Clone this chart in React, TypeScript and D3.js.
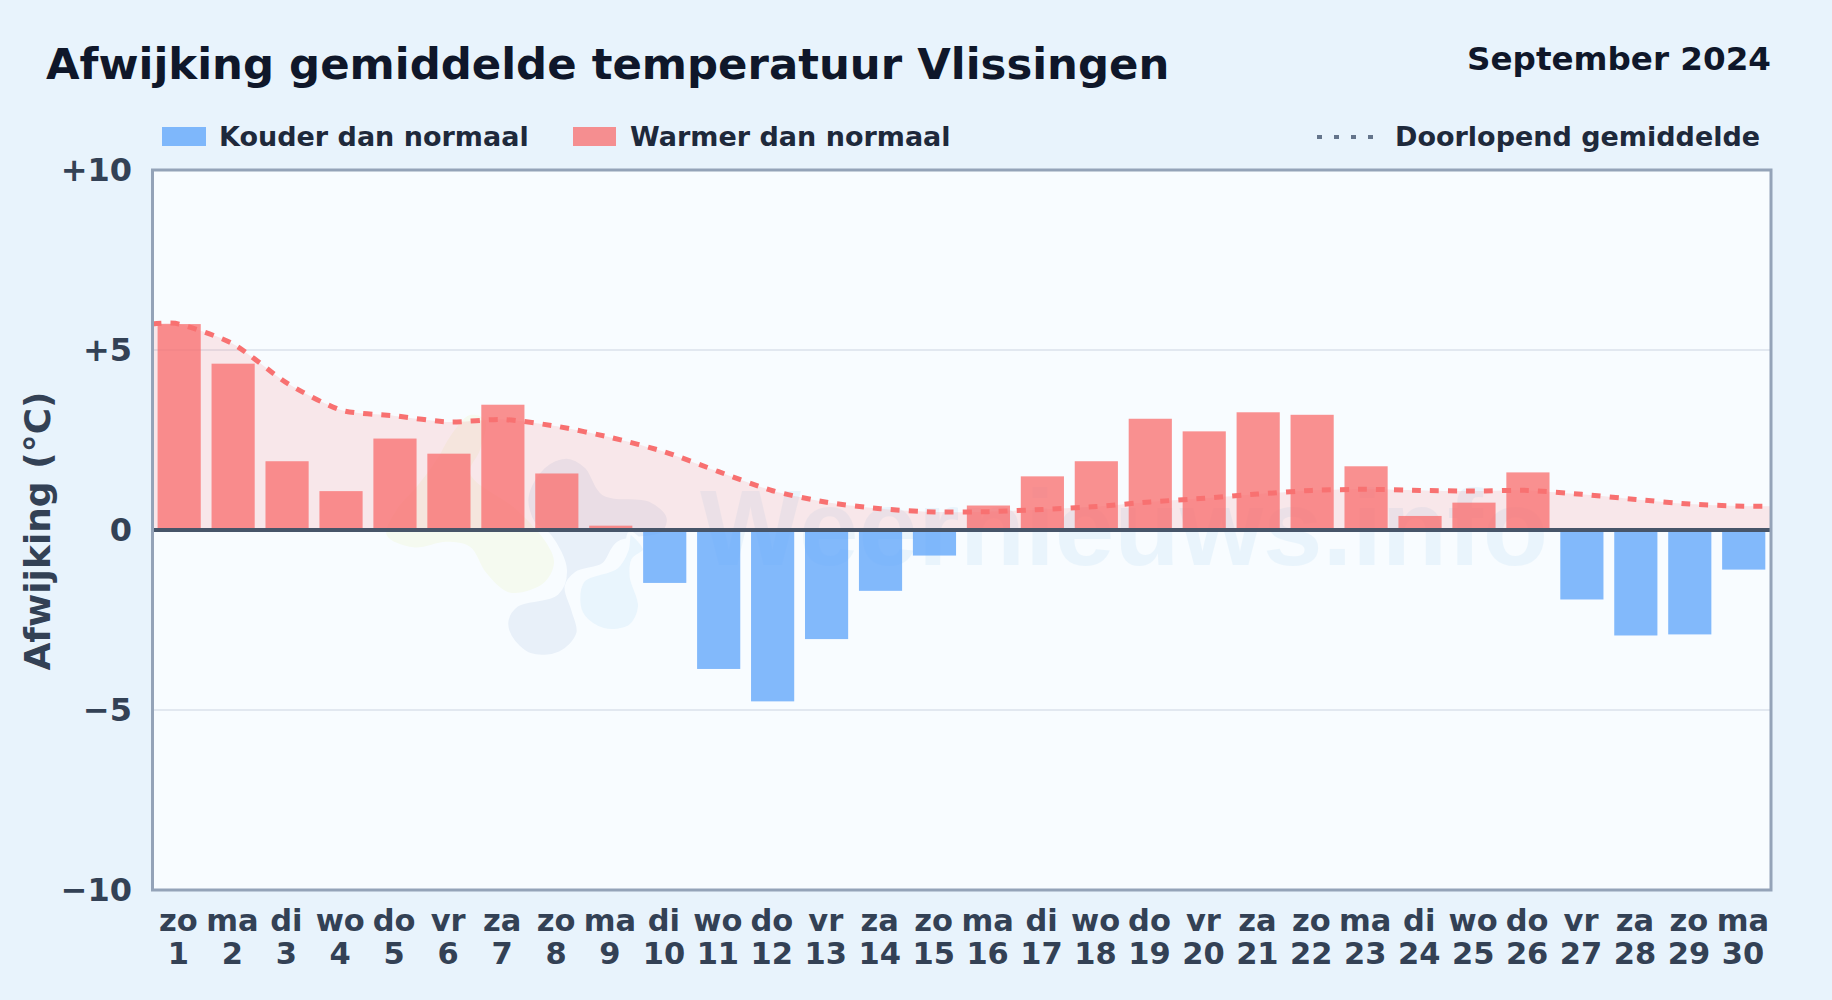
import React from "react";
import * as d3 from "d3";

const days = ["zo","ma","di","wo","do","vr","za","zo","ma","di","wo","do","vr","za","zo","ma","di","wo","do","vr","za","zo","ma","di","wo","do","vr","za","zo","ma"];
const dates = ["1","2","3","4","5","6","7","8","9","10","11","12","13","14","15","16","17","18","19","20","21","22","23","24","25","26","27","28","29","30"];
const deviation = [5.72,4.62,1.91,1.08,2.54,2.12,3.48,1.57,0.12,-1.47,-3.86,-4.76,-3.03,-1.69,-0.71,0.68,1.49,1.91,3.09,2.74,3.27,3.2,1.77,0.39,0.76,1.6,-1.93,-2.93,-2.9,-1.1];
const running = [5.72,5.17,4.08,3.33,3.17,3.0,3.07,2.88,2.57,2.17,1.62,1.09,0.77,0.59,0.5,0.51,0.57,0.65,0.78,0.88,1.0,1.1,1.13,1.1,1.08,1.1,0.99,0.85,0.72,0.66];
const yTicks = [10,5,0,-5,-10];
const yLabels = ["+10","+5","0","−5","−10"];

const W = 1832, H = 1000;
const L = 152.5, R = 1771, T = 170, B = 890;
const FONT = "'DejaVu Sans', sans-serif";

const x = d3.scaleBand<string>().domain(dates).range([L - 0.3, R - 0.3]).paddingInner(0.2).paddingOuter(0.1);
const y = d3.scaleLinear().domain([-10, 10]).range([B, T]);
const cx = (i: number) => (x(dates[i]) as number) + x.bandwidth() / 2;

type P = [number, number];
const pts: P[] = [[L, running[0]], ...running.map((v, i) => [cx(i), v] as P), [R, running[running.length - 1]]];
const curve = d3.curveCardinal.tension(0.3);
const lineGen = d3.line<P>().x(d => d[0]).y(d => y(d[1])).curve(curve);
const areaGen = d3.area<P>().x(d => d[0]).y0(y(0)).y1(d => y(d[1])).curve(curve);

const blob = d3.line<number[]>().curve(d3.curveCatmullRomClosed.alpha(0.5));
const logoYellow = [[240,80],[300,15],[345,30],[330,120],[300,190],[440,300],[530,400],[552,460],[520,520],[420,548],[350,490],[300,410],[230,395],[130,412],[50,375],[80,300],[140,230],[200,150]];
const logoBlue = [[590,140],[650,170],[700,250],[840,270],[895,320],[880,370],[745,400],[700,465],[620,490],[590,530],[610,600],[625,670],[570,730],[480,735],[420,680],[410,630],[440,585],[560,550],[585,480],[540,380],[490,340],[470,260],[520,170]];
const logoLight = [[780,370],[825,420],[790,450],[785,500],[810,590],[780,650],[700,660],[640,620],[625,570],[640,510],[740,470],[770,420]];

export default function App() {
  return (
    <svg width={W} height={H} viewBox={`0 0 ${W} ${H}`} style={{ position: "absolute", left: 0, top: 0, display: "block" }} fontFamily={FONT}>
      <defs>
        <clipPath id="plot"><rect x={L} y={T} width={R - L} height={B - T} /></clipPath>
      </defs>
      <rect width={W} height={H} fill="#e8f3fc" />
      <rect x={L} y={T} width={R - L} height={B - T} fill="#f8fcff" />

      <g transform="translate(370,410) scale(0.3333)">
        <path d={blob(logoYellow) as string} fill="#f5faf0" />
        <path d={blob(logoBlue) as string} fill="#e8f0f9" stroke="#f8fcff" strokeWidth={12} />
        <path d={blob(logoLight) as string} fill="#e9f5fd" stroke="#f8fcff" strokeWidth={12} />
      </g>
      <text x={700} y={565} fontFamily="'Liberation Sans', sans-serif" fontWeight={700} fontSize={107} fill="#3b9ce0" opacity={0.07}>Weernieuws.info</text>

      {yTicks.filter(t => t === 5 || t === -5).map(t => (
        <line key={t} x1={L} x2={R} y1={y(t)} y2={y(t)} stroke="#e2e8f0" strokeWidth={2} />
      ))}

      <g clipPath="url(#plot)">
        <path d={areaGen(pts) as string} fill="#f87171" fillOpacity={0.15} />
      </g>

      {deviation.map((v, i) => (
        <rect key={i} x={x(dates[i])} width={x.bandwidth()} y={y(Math.max(v, 0))} height={Math.abs(y(v) - y(0))} fill={v >= 0 ? "#f87171" : "#60a5fa"} fillOpacity={0.78} />
      ))}

      <g clipPath="url(#plot)">
        <path d={lineGen(pts) as string} fill="none" stroke="#f87171" strokeWidth={5} strokeDasharray="9 9" />
      </g>

      <line x1={L} x2={R} y1={y(0)} y2={y(0)} stroke="#475569" strokeWidth={4} />
      <rect x={L} y={T} width={R - L} height={B - T} fill="none" stroke="#94a3b8" strokeWidth={3} />

      {yTicks.map((t, i) => (
        <text key={t} x={132} y={y(t) + 11} textAnchor="end" fontSize={32} fontWeight={700} fill="#334155">{yLabels[i]}</text>
      ))}
      {days.map((d, i) => (
        <g key={i} textAnchor="middle" fontSize={30.5} fontWeight={700} fill="#334155">
          <text x={cx(i) - 0.8} y={931}>{d}</text>
          <text x={cx(i) - 0.8} y={964}>{dates[i]}</text>
        </g>
      ))}

      <text transform="translate(50,531) rotate(-90)" textAnchor="middle" fontSize={36} fontWeight={700} fill="#334155">Afwijking (°C)</text>

      <text x={46} y={79} fontSize={43.4} fontWeight={700} fill="#0f172a">Afwijking gemiddelde temperatuur Vlissingen</text>
      <text x={1771} y={70} textAnchor="end" fontSize={32.6} fontWeight={700} fill="#0f172a">September 2024</text>

      <rect x={162} y={127} width={44} height={19} fill="#60a5fa" fillOpacity={0.78} />
      <text x={219} y={146} fontSize={27} fontWeight={700} fill="#1e293b">Kouder dan normaal</text>
      <rect x={573} y={127} width={43} height={19} fill="#f87171" fillOpacity={0.78} />
      <text x={630} y={146} fontSize={27} fontWeight={700} fill="#1e293b">Warmer dan normaal</text>
      <line x1={1317} x2={1375} y1={137} y2={137} stroke="#64748b" strokeWidth={4} strokeDasharray="5 12" />
      <text x={1395} y={146} fontSize={27} fontWeight={700} fill="#1e293b">Doorlopend gemiddelde</text>
    </svg>
  );
}
